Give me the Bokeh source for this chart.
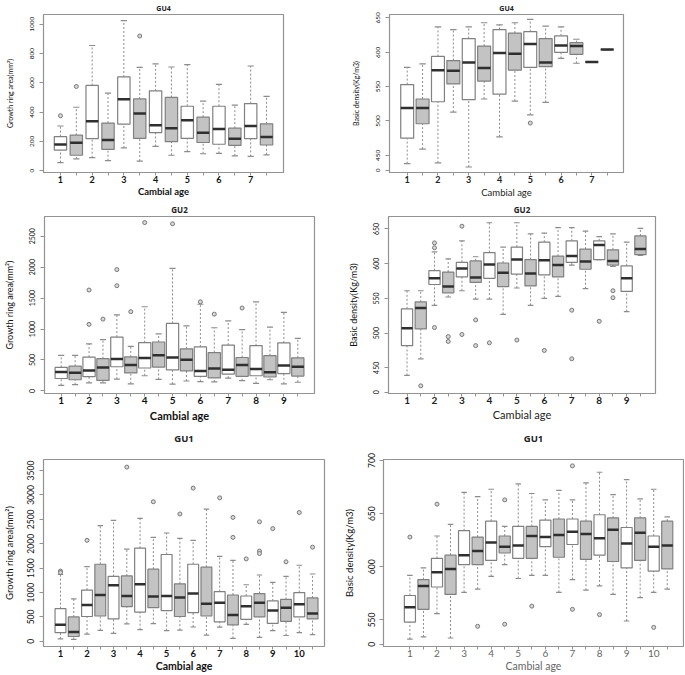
from bokeh.plotting import figure
from bokeh.layouts import column, row
from bokeh.models import FixedTicker, Range1d, ColumnDataSource, CustomJSTickFormatter
from bokeh.transform import dodge
from bokeh.embed import file_html
from bokeh.resources import INLINE

# ---------------- DATA (box order: age1 white, age1 gray, age2 white, ...) ----------------
# GU4 - growth ring area
gu4_area_ages = [1, 2, 3, 4, 5, 6, 7]
gu4_area_upper = [305, 433, 855, 530, 1025, 705, 730, 708, 725, 475, 590, 448, 715, 508]
gu4_area_q3 = [232, 242, 582, 325, 640, 490, 545, 500, 440, 365, 440, 290, 458, 320]
gu4_area_med = [178, 190, 338, 210, 487, 390, 310, 290, 345, 258, 285, 218, 305, 230]
gu4_area_q1 = [140, 105, 218, 145, 318, 220, 260, 198, 220, 192, 180, 172, 218, 175]
gu4_area_lower = [55, 80, 88, 68, 155, 65, 165, 105, 130, 115, 118, 100, 97, 108]
gu4_area_out_box = [1, 2, 6]
gu4_area_out_val = [375, 575, 920]

# GU4 - basic density
gu4_dens_ages = [1, 2, 3, 4, 5, 6, 7]
gu4_dens_upper = [578, 583, 637, 633, 637, 643, 640, 643, 648, 638, 637, 619, 586, 604]
gu4_dens_q3 = [553, 532, 594, 588, 620, 609, 633, 628, 630, 620, 624, 614, 586, 604]
gu4_dens_med = [519, 519, 574, 573, 585, 577, 599, 598, 612, 585, 610, 609, 586, 604]
gu4_dens_q1 = [475, 496, 528, 554, 531, 558, 539, 574, 578, 579, 600, 597, 586, 604]
gu4_dens_lower = [438, 459, 439, 513, 433, 532, 477, 529, 509, 527, 591, 584, 586, 604]
gu4_dens_out_box = [9]
gu4_dens_out_val = [497]

# GU2 - growth ring area
gu2_area_ages = [1, 2, 3, 4, 5, 6, 7, 8, 9]
gu2_area_upper = [575, 575, 760, 830, 1230, 720, 1360, 920, 1980, 1050, 1400, 1020, 1130, 990, 1440, 1030, 1270, 850]
gu2_area_q3 = [380, 400, 545, 520, 870, 550, 780, 790, 1090, 680, 710, 620, 740, 540, 730, 570, 775, 535]
gu2_area_med = [305, 295, 330, 380, 515, 420, 530, 575, 540, 505, 320, 360, 340, 420, 355, 300, 410, 390]
gu2_area_q1 = [200, 180, 230, 170, 390, 290, 370, 385, 340, 325, 235, 210, 270, 235, 245, 225, 280, 240]
gu2_area_lower = [90, 100, 130, 130, 190, 115, 245, 185, 110, 160, 150, 145, 205, 165, 120, 180, 115, 140]
gu2_area_out_box = [3, 3, 4, 5, 5, 6, 7, 9, 11, 12, 14]
gu2_area_out_val = [1630, 1075, 1160, 1960, 1700, 1280, 2720, 2700, 1440, 1240, 1340]

# GU2 - basic density
gu2_dens_ages = [1, 2, 3, 4, 5, 6, 7, 8, 9]
gu2_dens_upper = [561, 561, 617, 607, 633, 610, 659, 624, 659, 643, 644, 652, 652, 647, 639, 643, 631, 651]
gu2_dens_q3 = [535, 545, 590, 588, 602, 604, 616, 601, 624, 606, 631, 611, 633, 621, 633, 620, 597, 640]
gu2_dens_med = [507, 536, 579, 567, 593, 580, 599, 587, 606, 586, 605, 598, 611, 603, 627, 604, 579, 621]
gu2_dens_q1 = [482, 506, 570, 558, 581, 573, 579, 567, 585, 568, 584, 581, 602, 592, 606, 598, 560, 613]
gu2_dens_lower = [439, 463, 540, 552, 561, 549, 549, 527, 565, 540, 550, 553, 598, 564, 606, 596, 531, 612]
gu2_dens_out_box = [2, 3, 3, 3, 4, 4, 5, 5, 6, 6, 7, 9, 11, 13, 13, 15, 16, 16]
gu2_dens_out_val = [424, 630, 623, 508, 495, 488, 654, 498, 519, 482, 486, 490, 475, 533, 463, 517, 561, 551]

# GU1 - growth ring area
gu1_area_ages = [1, 2, 3, 4, 5, 6, 7, 8, 9, 10]
gu1_area_upper = [1370, 870, 1530, 2370, 2480, 1890, 2520, 2130, 2220, 2110, 2070, 2710, 1740, 1660, 1160, 1360, 1210, 1330, 1560, 1380]
gu1_area_q3 = [670, 500, 1050, 1580, 1330, 1340, 1910, 1480, 1780, 1180, 1580, 1520, 1020, 950, 930, 980, 830, 860, 1000, 890]
gu1_area_med = [340, 190, 745, 950, 1150, 930, 1170, 920, 930, 900, 980, 770, 790, 540, 720, 790, 630, 690, 760, 570]
gu1_area_q1 = [180, 100, 510, 520, 460, 710, 600, 690, 630, 510, 590, 520, 400, 340, 450, 500, 370, 410, 500, 460]
gu1_area_lower = [50, 40, 150, 225, 165, 360, 240, 365, 220, 230, 295, 130, 290, 60, 350, 80, 220, 120, 180, 140]
gu1_area_out_box = [1, 1, 3, 6, 8, 10, 11, 13, 14, 14, 15, 16, 16, 16, 17, 18, 19, 20]
gu1_area_out_val = [1440, 1410, 2070, 3570, 2860, 2610, 3140, 2940, 2540, 2130, 1690, 2450, 1850, 1800, 2310, 1630, 2640, 1930]

# GU1 - basic density
gu1_dens_ages = [1, 2, 3, 4, 5, 6, 7, 8, 9, 10]
gu1_dens_upper = [592, 599, 629, 640, 670, 666, 673, 638, 678, 669, 663, 672, 663, 679, 689, 668, 682, 664, 673, 647]
gu1_dens_q3 = [573, 588, 608, 611, 634, 628, 643, 629, 638, 638, 644, 645, 645, 643, 649, 646, 637, 646, 629, 643]
gu1_dens_med = [562, 582, 595, 598, 611, 615, 623, 619, 620, 629, 628, 630, 633, 631, 627, 635, 622, 632, 619, 620]
gu1_dens_q1 = [548, 560, 581, 574, 602, 602, 606, 613, 608, 608, 619, 609, 621, 607, 611, 605, 599, 606, 596, 598]
gu1_dens_lower = [532, 534, 556, 533, 576, 579, 591, 602, 589, 592, 592, 576, 588, 578, 582, 574, 549, 571, 576, 579]
gu1_dens_out_box = [1, 3, 6, 8, 8, 10, 13, 13, 15, 19]
gu1_dens_out_val = [628, 659, 544, 663, 546, 563, 695, 560, 555, 543]

# ---------------- STYLE ----------------
WHITE = "#ffffff"
GRAY = "#c3c3c3"
EDGE = "#808080"
WHISK = "#8c8c8c"
MEDIAN = "#2f2f2f"
FRAME = "#939393"


def panel(title, ylabel, ages, upper, q3, med, q1, lower, out_box, out_val,
          xr, yr, yticks, fake_zero, w, h, bl, br, bt, bb, bw,
          title_fs, title_lh, ytick_fs, ylab_fs, ylab_standoff,
          xtick_fs, xlab_fs, xlab_standoff, tick_bold=True, lab_bold=True,
          xcolor="#111111"):
    n = len(med)
    pos = list(range(1, n + 1))
    fills = [WHITE if i % 2 == 1 else GRAY for i in pos]
    src = ColumnDataSource(dict(x=pos, upper=upper, q3=q3, med=med, q1=q1,
                                lower=lower, fill=fills))
    p = figure(width=w, height=h, x_range=Range1d(*xr), y_range=Range1d(*yr),
               output_backend="svg", toolbar_location=None, title=title)
    p.min_border_left = bl
    p.min_border_right = br
    p.min_border_top = bt
    p.min_border_bottom = bb
    p.background_fill_color = "white"
    p.border_fill_color = "white"
    p.outline_line_color = FRAME
    p.outline_line_width = 1.2
    p.grid.visible = False

    # whiskers
    p.segment(x0="x", y0="q3", x1="x", y1="upper", source=src,
              line_color=WHISK, line_width=1, line_dash="2 2")
    p.segment(x0="x", y0="lower", x1="x", y1="q1", source=src,
              line_color=WHISK, line_width=1, line_dash="2 2")
    # caps
    cw = bw / 4.0
    p.segment(x0=dodge("x", -cw, range=p.x_range), y0="upper",
              x1=dodge("x", cw, range=p.x_range), y1="upper", source=src,
              line_color=WHISK, line_width=1.2)
    p.segment(x0=dodge("x", -cw, range=p.x_range), y0="lower",
              x1=dodge("x", cw, range=p.x_range), y1="lower", source=src,
              line_color=WHISK, line_width=1.2)
    # boxes
    p.vbar(x="x", width=bw, top="q3", bottom="q1", source=src,
           fill_color="fill", line_color=EDGE, line_width=1.2)
    # medians
    p.segment(x0=dodge("x", -bw / 2, range=p.x_range), y0="med",
              x1=dodge("x", bw / 2, range=p.x_range), y1="med", source=src,
              line_color=MEDIAN, line_width=2.5)
    # outliers
    p.scatter(x=out_box, y=out_val, marker="circle", size=4,
              fill_color="#d9d9d9", line_color="#777777", line_width=1)

    # title
    p.title.text_font = "Open Sans"
    p.title.text_font_size = title_fs
    p.title.text_font_style = "bold"
    p.title.align = "center"
    p.title.standoff = 3
    p.title.text_line_height = title_lh
    p.title.text_color = "#222222"

    # axes
    for ax in (p.xaxis[0], p.yaxis[0]):
        ax.axis_line_color = FRAME
        ax.major_tick_line_color = FRAME
        ax.minor_tick_line_color = None
        ax.major_tick_in = 0

    xa = p.xaxis[0]
    xa.major_tick_out = 3
    xa.ticker = FixedTicker(ticks=pos)
    xa.major_label_overrides = {i: (str(ages[(i - 1) // 2]) if i % 2 == 1 else "")
                                for i in pos}
    xa.major_label_standoff = 0
    xa.major_label_text_font = "Lato"
    xa.major_label_text_font_size = xtick_fs
    xa.major_label_text_font_style = "bold" if tick_bold else "normal"
    xa.major_label_text_color = xcolor
    xa.axis_label = "Cambial age"
    xa.axis_label_text_font = "Lato"
    xa.axis_label_text_font_size = xlab_fs
    xa.axis_label_text_font_style = "bold" if lab_bold else "normal"
    xa.axis_label_text_color = xcolor
    xa.axis_label_standoff = xlab_standoff

    ya = p.yaxis[0]
    ya.major_tick_out = 4
    ya.ticker = FixedTicker(ticks=yticks)
    if fake_zero is not None:
        ya.formatter = CustomJSTickFormatter(
            args=dict(z=fake_zero),
            code="return (Math.abs(tick - z) < 0.5) ? '0' : String(tick);")
    ya.major_label_standoff = 5
    ya.major_label_orientation = "vertical"
    ya.major_label_text_font = "Lato"
    ya.major_label_text_font_size = ytick_fs
    ya.major_label_text_color = "#111111"
    ya.axis_label = ylabel
    ya.axis_label_text_font = "Lato"
    ya.axis_label_text_font_size = ylab_fs
    ya.axis_label_text_font_style = "normal"
    ya.axis_label_text_color = "#111111"
    ya.axis_label_standoff = ylab_standoff
    return p


AREA = "Growth ring area(mm²)"
DENS = "Basic density(Kg/m3)"

LW, RW = 340, 344
H1, H2, H3 = 200, 228, 246

p1 = panel("GU4", AREA, gu4_area_ages, gu4_area_upper, gu4_area_q3, gu4_area_med,
           gu4_area_q1, gu4_area_lower, gu4_area_out_box, gu4_area_out_val,
           (-0.07, 15.07), (-13, 1067), [0, 200, 400, 600, 800, 1000], None,
           LW, H1, 43, 57, 13, 27, 0.78,
           "7px", 1.2, "6.5px", "7px", 14, "9px", "9.5px", 0)
p2 = panel("GU4", DENS, gu4_dens_ages, gu4_dens_upper, gu4_dens_q3, gu4_dens_med,
           gu4_dens_q1, gu4_dens_lower, gu4_dens_out_box, gu4_dens_out_val,
           (-0.15, 15.06), (425, 655), [428, 450, 500, 550, 600, 650], 428,
           RW, H1, 49, 61, 13, 27, 0.84,
           "7px", 1.2, "6.5px", "7px", 14, "9px", "9.5px", 1,
           lab_bold=False, xcolor="#222222")
p3 = panel("GU2", AREA, gu2_area_ages, gu2_area_upper, gu2_area_q3, gu2_area_med,
           gu2_area_q1, gu2_area_lower, gu2_area_out_box, gu2_area_out_val,
           (-0.2, 19.2), (-42, 2818), [0, 500, 1000, 1500, 2000, 2500], None,
           LW, H2, 43, 26, 13, 35, 0.88,
           "8px", 1.2, "7px", "9px", 12, "10px", "11px", 2)
p4 = panel("GU2", DENS, gu2_dens_ages, gu2_dens_upper, gu2_dens_q3, gu2_dens_med,
           gu2_dens_q1, gu2_dens_lower, gu2_dens_out_box, gu2_dens_out_val,
           (-0.35, 19.1), (413, 668), [415, 450, 500, 550, 600, 650], 415,
           RW, H2, 48, 29, 13, 35, 0.82,
           "8px", 1.2, "7px", "9px", 12, "10px", "11px", 1,
           lab_bold=False, xcolor="#222222")
p5 = panel("GU1\n", AREA, gu1_area_ages, gu1_area_upper, gu1_area_q3, gu1_area_med,
           gu1_area_q1, gu1_area_lower, gu1_area_out_box, gu1_area_out_val,
           (-0.28, 20.9), (-105, 3726), [0, 500, 1000, 1500, 2000, 2500, 3000, 3500], None,
           LW, H3, 43, 16, 22, 26, 0.82,
           "9.5px", 1.0, "8.5px", "9.5px", 10, "9.5px", "10.5px", 0)
p6 = panel("GU1\n", DENS, gu1_dens_ages, gu1_dens_upper, gu1_dens_q3, gu1_dens_med,
           gu1_dens_q1, gu1_dens_lower, gu1_dens_out_box, gu1_dens_out_val,
           (-0.95, 21.2), (525, 701), [527, 550, 600, 650, 700], 527,
           RW, H3, 40, 1, 22, 25, 0.82,
           "9.5px", 1.0, "8.5px", "9.5px", 10, "10px", "10.5px", 0,
           tick_bold=False, lab_bold=False, xcolor="#666666")

layout = column(row(p1, p2), row(p3, p4), row(p5, p6))

open("out.html", "w").write(file_html(layout, INLINE, title="Boxplots"))
